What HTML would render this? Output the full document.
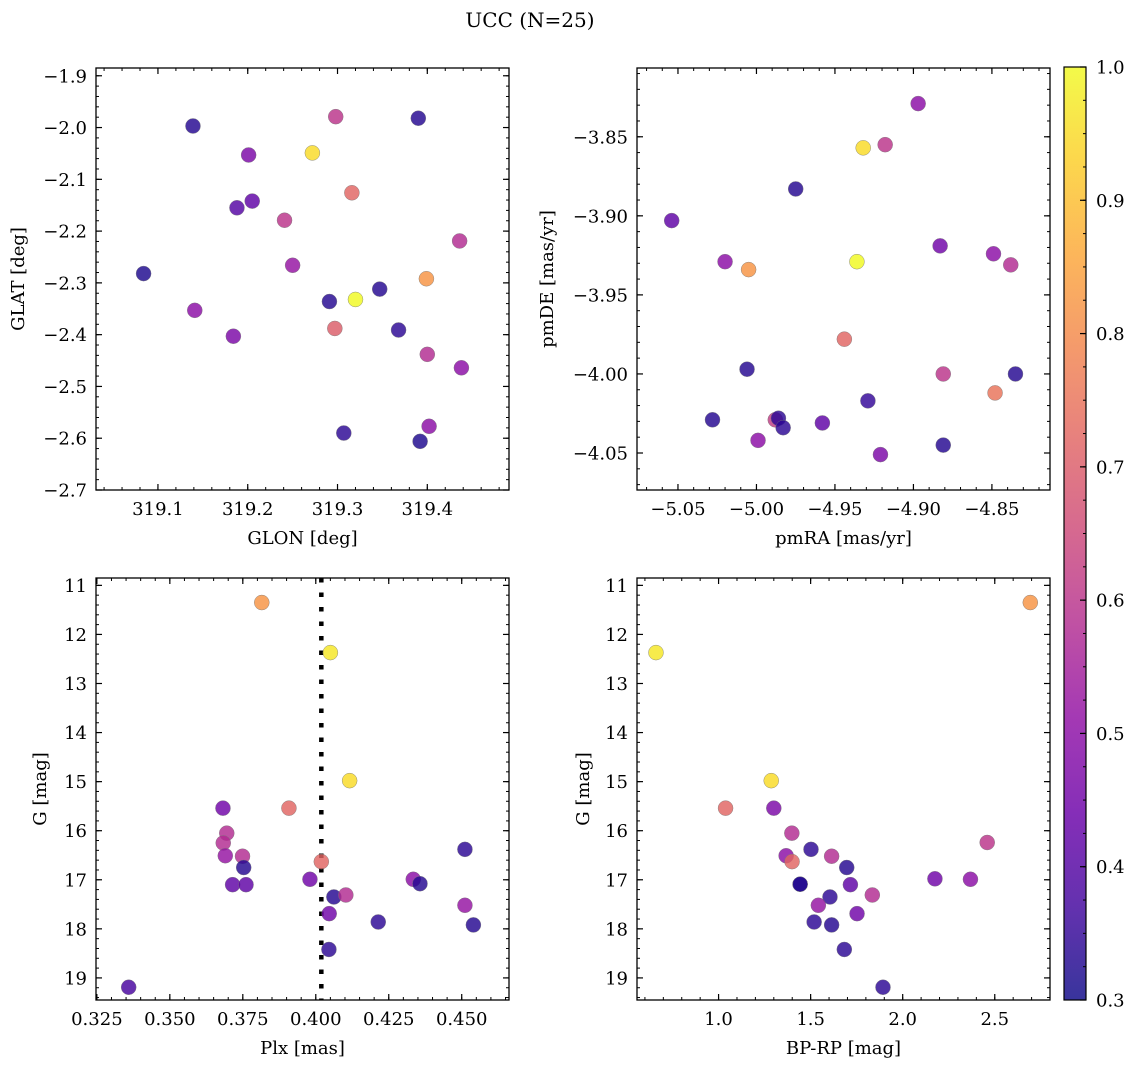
<!DOCTYPE html>
<html><head><meta charset="utf-8">
<style>
html,body{margin:0;padding:0;background:#fff;}
svg{display:block;font-family:"DejaVu Serif","Liberation Serif",serif;}
</style></head>
<body>
<svg id="fig" width="1136" height="1067" viewBox="0 0 1136 1067" xmlns="http://www.w3.org/2000/svg">
<text x="530" y="27" font-size="20" text-anchor="middle">UCC (N=25)</text>
</svg>
<script>
// Panel 1: GLON / GLAT
const glonX = [319.139,319.298,319.390,319.201,319.272,319.316,319.188,319.205,319.241,319.436,319.250,319.084,319.399,319.347,319.291,319.320,319.141,319.297,319.368,319.184,319.400,319.438,319.402,319.307,319.392];
const glatY = [-1.997,-1.979,-1.982,-2.053,-2.049,-2.126,-2.155,-2.142,-2.179,-2.219,-2.266,-2.282,-2.292,-2.312,-2.336,-2.332,-2.353,-2.388,-2.391,-2.403,-2.438,-2.464,-2.577,-2.590,-2.606];
const probP1 = [0.33,0.60,0.33,0.47,0.95,0.72,0.40,0.42,0.60,0.58,0.52,0.32,0.82,0.33,0.33,1.00,0.50,0.70,0.34,0.47,0.58,0.50,0.50,0.34,0.32];
// Panel 2: pmRA / pmDE
const pmraX = [-4.897,-4.932,-4.918,-4.975,-5.054,-4.883,-4.849,-4.838,-5.020,-5.005,-4.936,-4.944,-5.006,-4.881,-4.835,-4.848,-4.929,-5.028,-4.988,-4.986,-4.983,-4.958,-4.999,-4.881,-4.921];
const pmdeY = [-3.829,-3.857,-3.855,-3.883,-3.903,-3.919,-3.924,-3.931,-3.929,-3.934,-3.929,-3.978,-3.997,-4.000,-4.000,-4.012,-4.017,-4.029,-4.029,-4.028,-4.034,-4.031,-4.042,-4.045,-4.051];
const probP2 = [0.50,0.95,0.60,0.33,0.42,0.45,0.50,0.58,0.50,0.82,1.00,0.72,0.33,0.60,0.33,0.75,0.35,0.33,0.62,0.34,0.34,0.42,0.50,0.33,0.47];
// Panel 3: Plx / G
const plxX = [0.3815,0.4050,0.4116,0.3682,0.3908,0.3695,0.3683,0.3690,0.3749,0.3753,0.4019,0.3715,0.3761,0.3980,0.4062,0.4103,0.4046,0.4045,0.4214,0.4334,0.4357,0.4511,0.4511,0.4540,0.3359];
const gmagY3 = [11.35,12.37,14.98,15.54,15.54,16.05,16.25,16.51,16.52,16.75,16.63,17.10,17.10,16.99,17.35,17.31,17.69,18.42,17.86,16.99,17.08,16.38,17.52,17.92,19.19];
const probP3 = [0.82,0.97,0.95,0.45,0.72,0.58,0.58,0.52,0.58,0.33,0.72,0.42,0.42,0.45,0.33,0.58,0.45,0.34,0.34,0.50,0.33,0.34,0.52,0.33,0.38];
const plxLine = [0.4019];
// Panel 4: BP-RP / G
const bprpX = [2.693,0.660,1.286,1.038,1.300,1.398,2.459,1.502,1.367,1.614,1.399,1.696,1.443,1.443,1.716,2.175,2.368,1.835,1.605,1.542,1.752,1.519,1.614,1.683,1.893];
const gmagY4 = [11.35,12.37,14.98,15.54,15.54,16.05,16.24,16.38,16.51,16.52,16.63,16.75,17.09,17.09,17.10,16.98,16.99,17.31,17.35,17.52,17.69,17.86,17.92,18.42,19.19];
const probP4 = [0.82,0.97,0.95,0.72,0.47,0.58,0.60,0.34,0.50,0.58,0.72,0.33,0.30,0.33,0.42,0.45,0.50,0.58,0.34,0.52,0.45,0.34,0.33,0.34,0.34];
// tick labels
const ticks1x = [319.1,319.2,319.3,319.4];
const ticks1y = [-1.9,-2.0,-2.1,-2.2,-2.3,-2.4,-2.5,-2.6,-2.7];
const ticks2x = [-5.05,-5.00,-4.95,-4.90,-4.85];
const ticks2y = [-3.85,-3.90,-3.95,-4.00,-4.05];
const ticks3x = [0.325,0.350,0.375,0.400,0.425,0.450];
const ticksGy = [11,12,13,14,15,16,17,18,19];
const ticks4x = [1.0,1.5,2.0,2.5];
const ticksCb = [0.3,0.4,0.5,0.6,0.7,0.8,0.9,1.0];

const NS="http://www.w3.org/2000/svg";
const svg=document.getElementById('fig');
const FS=18;
function mk(tag,attrs,parent){const e=document.createElementNS(NS,tag);for(const k in attrs)e.setAttribute(k,attrs[k]);(parent||svg).appendChild(e);return e;}
const plasma=[[13,8,135],[65,4,157],[106,0,168],[143,13,164],[177,42,144],[204,71,120],[225,100,98],[242,132,75],[252,166,54],[252,206,37],[240,249,33]];
function cmap(p){let t=(p-0.3)/0.7;t=Math.max(0,Math.min(1,t));const f=t*10,i=Math.min(9,Math.floor(f)),r=f-i;const a=plasma[i],b=plasma[i+1];return 'rgb('+[0,1,2].map(k=>Math.round(a[k]+(b[k]-a[k])*r)).join(',')+')';}
function fmt(v,d){const s=Math.abs(v).toFixed(d);return (v<0?'\u2212':'')+s;}

function panel(o){
  const g=mk('g',{});
  
  
  const sx=v=>o.L+(v-o.x0)/(o.x1-o.x0)*(o.R-o.L);
  const sy=v=>o.T+(v-o.y0)/(o.y1-o.y0)*(o.B-o.T);
  const lo=Math.min(o.x0,o.x1),hi=Math.max(o.x0,o.x1);
  for(let v=Math.ceil(lo/o.mx-1e-6)*o.mx;v<=hi+1e-9;v+=o.mx){const x=sx(v);
    mk('line',{x1:x,x2:x,y1:o.B,y2:o.B-3,stroke:'#000','stroke-width':1},g);mk('line',{x1:x,x2:x,y1:o.T,y2:o.T+3,stroke:'#000','stroke-width':1},g);}
  const ylo=Math.min(o.y0,o.y1),yhi=Math.max(o.y0,o.y1);
  for(let v=Math.ceil(ylo/o.my-1e-6)*o.my;v<=yhi+1e-9;v+=o.my){const y=sy(v);
    mk('line',{x1:o.L,x2:o.L+3,y1:y,y2:y,stroke:'#000','stroke-width':1},g);mk('line',{x1:o.R,x2:o.R-3,y1:y,y2:y,stroke:'#000','stroke-width':1},g);}
  o.tx.forEach(v=>{const x=sx(v);
    mk('line',{x1:x,x2:x,y1:o.B,y2:o.B-6,stroke:'#000','stroke-width':1.2},g);mk('line',{x1:x,x2:x,y1:o.T,y2:o.T+6,stroke:'#000','stroke-width':1.2},g);
    const t=mk('text',{x:x,y:o.B+25,'font-size':FS,'text-anchor':'middle'},g);t.textContent=fmt(v,o.dx);
    
    });
  o.ty.forEach(v=>{const y=sy(v);
    mk('line',{x1:o.L,x2:o.L+6,y1:y,y2:y,stroke:'#000','stroke-width':1.2},g);mk('line',{x1:o.R,x2:o.R-6,y1:y,y2:y,stroke:'#000','stroke-width':1.2},g);
    const t=mk('text',{x:o.L-9,y:y+6.5,'font-size':FS,'text-anchor':'end'},g);t.textContent=fmt(v,o.dy);
    
    });
  if(o.vline){o.vline.forEach(v=>{const l=mk('line',{x1:sx(v),x2:sx(v),y1:o.T,y2:o.B,stroke:'#000','stroke-width':4.5,'stroke-dasharray':'4.5 10'},g);
    
    });}
  o.xs.forEach((xv,i)=>{const c=mk('circle',{cx:sx(xv),cy:sy(o.ys[i]),r:7.5,fill:cmap(o.ps[i]),'fill-opacity':0.82,stroke:'#777','stroke-width':0.4},g);
    
    });
  mk('rect',{x:o.L,y:o.T,width:o.R-o.L,height:o.B-o.T,fill:'none',stroke:'#000','stroke-width':1.3},g);
  const xl=mk('text',{x:(o.L+o.R)/2,y:o.B+54,'font-size':FS,'text-anchor':'middle'},g);xl.textContent=o.xlab;
  
  
  const yc=(o.T+o.B)/2;
  const yl=mk('text',{x:o.ylx,y:yc,'font-size':FS,'text-anchor':'middle',transform:'rotate(-90 '+o.ylx+' '+yc+')'},g);yl.textContent=o.ylab;
  
  
}
panel({name:'glon-glat-panel',L:96,R:509,T:68,B:490,x0:319.031,x1:319.491,y0:-1.885,y1:-2.700,mx:0.02,my:0.02,tx:ticks1x,ty:ticks1y,dx:1,dy:1,xs:glonX,ys:glatY,ps:probP1,xlab:'GLON [deg]',ylab:'GLAT [deg]',ylx:24});
panel({name:'pm-panel',L:637,R:1050,T:68,B:490,x0:-5.0761,x1:-4.813,y0:-3.8065,y1:-4.0734,mx:0.01,my:0.01,tx:ticks2x,ty:ticks2y,dx:2,dy:2,xs:pmraX,ys:pmdeY,ps:probP2,xlab:'pmRA [mas/yr]',ylab:'pmDE [mas/yr]',ylx:553});
panel({name:'plx-g-panel',L:96,R:509,T:578,B:1000,x0:0.3247,x1:0.4662,y0:10.85,y1:19.45,mx:0.005,my:0.2,tx:ticks3x,ty:ticksGy,dx:3,dy:0,xs:plxX,ys:gmagY3,ps:probP3,vline:plxLine,xlab:'Plx [mas]',ylab:'G [mag]',ylx:46});
panel({name:'cmd-panel',L:637,R:1050,T:578,B:1000,x0:0.557,x1:2.80,y0:10.85,y1:19.45,mx:0.1,my:0.2,tx:ticks4x,ty:ticksGy,dx:1,dy:0,xs:bprpX,ys:gmagY4,ps:probP4,xlab:'BP-RP [mag]',ylab:'G [mag]',ylx:589});

// colorbar
(function(){
  const L=1064,R=1086,T=67,B=1000;
  const g=mk('g',{});
  
  
  const defs=mk('defs',{},g);
  const lg=mk('linearGradient',{id:'cbg',x1:0,y1:1,x2:0,y2:0},defs);
  for(let i=0;i<=20;i++){const p=0.3+0.7*i/20;mk('stop',{offset:(i/20),'stop-color':cmap(p)},lg);}
  mk('rect',{x:L,y:T,width:R-L,height:B-T,fill:'url(#cbg)','fill-opacity':0.82},g);
  const sy=v=>B-(v-0.3)/0.7*(B-T);
  for(let k=0;k<=28;k++){const y=sy(0.3+k*0.025);mk('line',{x1:R,x2:R-3,y1:y,y2:y,stroke:'#000','stroke-width':1},g);}
  ticksCb.forEach(v=>{const y=sy(v);mk('line',{x1:R,x2:R-6,y1:y,y2:y,stroke:'#000','stroke-width':1.2},g);
    const t=mk('text',{x:R+10,y:y+6.5,'font-size':FS},g);t.textContent=v.toFixed(1);
    
    });
  mk('rect',{x:L,y:T,width:R-L,height:B-T,fill:'none',stroke:'#000','stroke-width':1.2},g);
})();
</script>
</body></html>
